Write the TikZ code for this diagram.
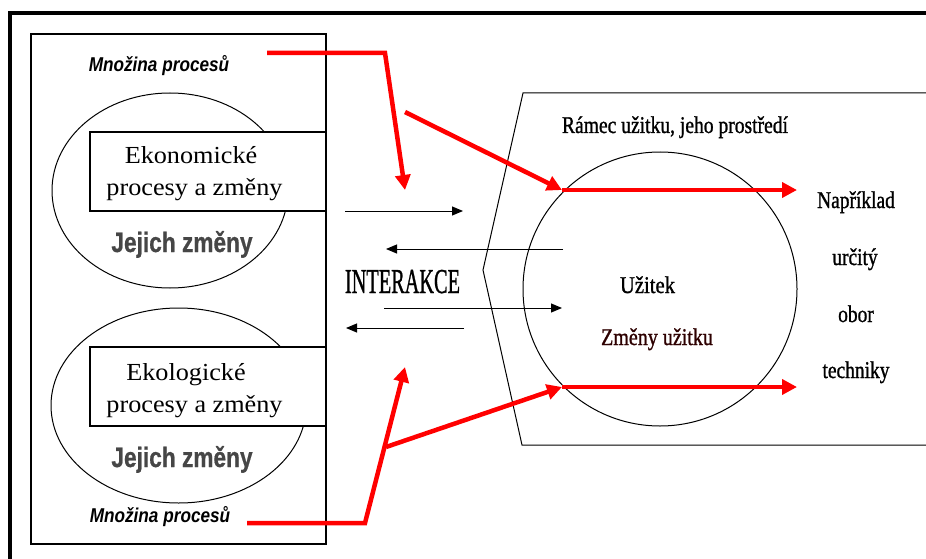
\documentclass[tikz,border=0pt]{standalone}
\usepackage{fontspec}
\usepackage{graphicx}
\setmainfont{Liberation Serif}
\newfontfamily\arialf{Liberation Sans}
\newfontfamily\serifheavy[FakeBold=1.2]{Liberation Serif}
\newfontfamily\arialheavy[FakeBold=0.8]{Liberation Sans Bold}
\usetikzlibrary{arrows.meta}
\newcommand{\fsz}[1]{\fontsize{#1}{#1}\selectfont}
\definecolor{jgray}{RGB}{70,70,70}
\definecolor{dred}{RGB}{45,0,0}
\begin{document}
\begin{tikzpicture}[x=1pt,y=-1pt,
  lbl/.style={inner sep=0pt,anchor=base},
  frameline/.style={line width=3.5pt,line cap=rect},
  boxline/.style={line width=1.3pt},
  outline/.style={line width=1pt},
  blackarrow/.style={line width=1pt,-{Triangle[length=11pt,width=9pt]}},
  redline/.style={draw=red,line width=4.5pt},
  redarrow/.style={redline,-{Triangle[length=15pt,width=15pt]}},
  serifl/.style={lbl,font=\serifheavy\fsz{24}},
  boxtext/.style={lbl,font=\fsz{24.5}},
  jejich/.style={lbl,text=jgray,font=\arialheavy\fsz{28}},
  mnozina/.style={lbl,font=\arialf\bfseries\itshape\fsz{20}}
]
\useasboundingbox (0,0) rectangle (926,559);
% outer frame
\draw[frameline] (10,566) -- (10,13) -- (930,13);
% left box
\draw[boxline] (31,34) rectangle (326,544);
% ellipses
\draw[outline] (170,190.5) ellipse[x radius=118,y radius=97.5];
\draw[outline] (178.6,405.5) ellipse[x radius=127.6,y radius=97.5];
% inner rectangles
\draw[boxline,fill=white] (90,132) rectangle (326,211);
\draw[boxline,fill=white] (90,347) rectangle (326,426);
% texts left
\node[mnozina] (mn1) at (159,72) {\scalebox{0.86}[1]{Množina procesů}};
\node[mnozina] (mn2) at (160,522) {\scalebox{0.86}[1]{Množina procesů}};
\node[boxtext] (eko1) at (191,164) {\scalebox{1.07}[1]{Ekonomické}};
\node[boxtext] (eko2) at (194.5,195) {\scalebox{1.07}[1]{procesy a změny}};
\node[boxtext] (ekl1) at (186,380) {\scalebox{1.07}[1]{Ekologické}};
\node[boxtext] (ekl2) at (194.5,412) {\scalebox{1.07}[1]{procesy a změny}};
\node[jejich] (jz1) at (182,252) {\scalebox{0.81}[1]{Jejich změny}};
\node[jejich] (jz2) at (182,467) {\scalebox{0.81}[1]{Jejich změny}};
\node[lbl,font=\serifheavy\fsz{35}] (inter) at (402.5,293) {\scalebox{0.58}[1]{INTERAKCE}};
% right frame
\draw[outline] (930,93) -- (523,93) -- (483,270) -- (522,445) -- (930,445);
\node[draw,circle,outline,minimum size=274pt,inner sep=0pt] (util) at (660,289) {};
\node[serifl] (ramec) at (675,133) {\scalebox{0.815}[1]{Rámec užitku, jeho prostředí}};
\node[serifl] (uz) at (647.5,293) {\scalebox{0.86}[1]{Užitek}};
\node[serifl,text=dred] (zu) at (657,345) {\scalebox{0.835}[1]{Změny užitku}};
\node[serifl] (nap) at (856,208) {\scalebox{0.81}[1]{Například}};
\node[serifl] (urc) at (855,265) {\scalebox{0.81}[1]{určitý}};
\node[serifl] (obor) at (856,322) {\scalebox{0.81}[1]{obor}};
\node[serifl] (tech) at (856,378) {\scalebox{0.81}[1]{techniky}};
% black interaction arrows
\coordinate (a1s) at (345,211); \coordinate (a1e) at (463,211);
\coordinate (a2s) at (563,249); \coordinate (a2e) at (386,249);
\coordinate (a3s) at (384,308); \coordinate (a3e) at (562,308);
\coordinate (a4s) at (464,328); \coordinate (a4e) at (346,328);
\draw[blackarrow] (a1s) -- (a1e);
\draw[blackarrow] (a2s) -- (a2e);
\draw[blackarrow] (a3s) -- (a3e);
\draw[blackarrow] (a4s) -- (a4e);
% red arrows
\coordinate (r1s) at (267,53); \coordinate (r1k) at (385,53); \coordinate (r1e) at (405,190);
\coordinate (r2s) at (405,112); \coordinate (ctop) at (562,190); \coordinate (etop) at (797,190);
\coordinate (r3s) at (247,523); \coordinate (r3k) at (365,523); \coordinate (r3e) at (405,367);
\coordinate (r4s) at (386,447); \coordinate (cbot) at (562,387); \coordinate (ebot) at (797,387);
\draw[redarrow] (r1s) -- (r1k) -- (r1e);
\draw[redarrow] (r2s) -- (ctop);
\draw[redarrow] (ctop) -- (etop);
\draw[redarrow] (r3s) -- (r3k) -- (r3e);
\draw[redarrow] (r4s) -- (cbot);
\draw[redarrow] (cbot) -- (ebot);
\end{tikzpicture}
\end{document}
